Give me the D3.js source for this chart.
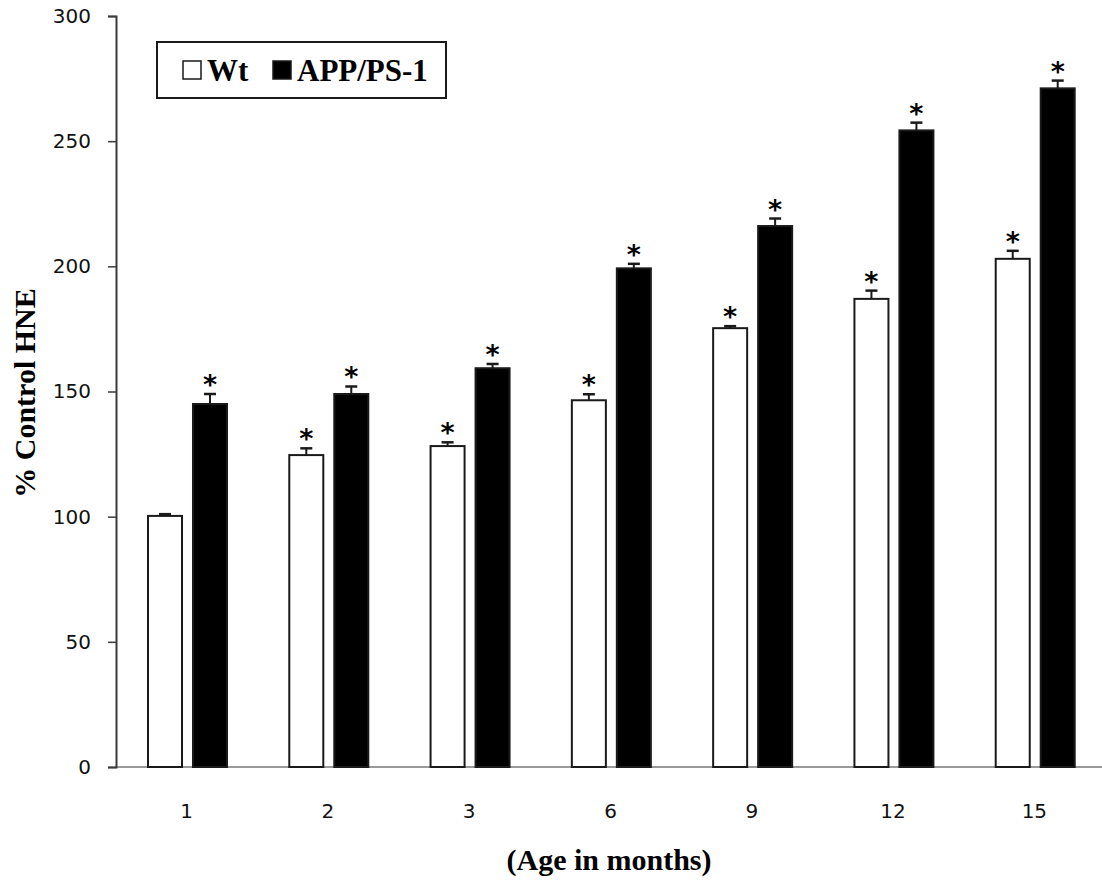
<!DOCTYPE html>
<html>
<head>
<meta charset="utf-8">
<script src="https://cdn.jsdelivr.net/npm/d3@7"></script>
<style>
  body { margin: 0; background: #fff; }
  svg { display: block; }
</style>
</head>
<body>
<svg id="canvas" width="1102" height="882"></svg>
<script>
// chart values
let ages = ['1', '2', '3', '6', '9', '12', '15']
let seriesNames = ['Wt', 'APP/PS-1']
let wtValues = [100.3, 124.6, 128.2, 146.5, 175.3, 187, 203]
let wtErrors = [0.7, 2.7, 1.5, 2.4, 0.8, 3.3, 3.2]
let appValues = [145, 149, 159.3, 199.2, 216.1, 254.3, 271.1]
let appErrors = [4, 3, 1.7, 1.8, 3, 3.1, 3.1]
let yTicks = [0, 50, 100, 150, 200, 250, 300]

let canvas = d3.select('#canvas')

let x = d3.scaleBand().domain(ages).range([116, 1105])
let xSub = d3.scaleBand().domain(seriesNames).range([32, 111]).paddingInner(0.244)
let y = d3.scaleLinear().domain([0, 300]).range([767, 16])

// build rows for drawing
let rows = []
ages.forEach((a, i) => {
    rows.push({ age: a, series: 'Wt', value: wtValues[i], err: wtErrors[i] })
    rows.push({ age: a, series: 'APP/PS-1', value: appValues[i], err: appErrors[i] })
})

// x axis (grey line, no ticks)
canvas.append('line')
    .attr('x1', 116).attr('x2', 1102)
    .attr('y1', y(0)).attr('y2', y(0))
    .style('stroke', '#9a9a9a')
    .style('stroke-width', 2)

// y axis
let yAxis = canvas.append('g')
    .attr('transform', 'translate(116,0)')
    .call(d3.axisLeft(y).tickValues(yTicks).tickSize(8).tickPadding(17))
yAxis.select('.domain').style('stroke', '#3a3a3a').style('stroke-width', 2)
yAxis.selectAll('.tick line').style('stroke', '#3a3a3a').style('stroke-width', 1.5)
yAxis.selectAll('.tick text')
    .style('font-family', 'DejaVu Sans')
    .style('font-size', '20px')
    .style('fill', '#111')

// bars
let bars = canvas.selectAll('rect.bar')
    .data(rows)
    .enter().append('rect')
    .attr('class', 'bar')
    .attr('x', d => x(d.age) + xSub(d.series))
    .attr('y', d => y(d.value))
    .attr('width', xSub.bandwidth())
    .attr('height', d => y(0) - y(d.value))
    .style('fill', d => d.series == 'Wt' ? '#fff' : '#000')
    .style('stroke', '#1a1a1a')
    .style('stroke-width', 2)

// error bars (upper only)
let errs = canvas.selectAll('g.err')
    .data(rows)
    .enter().append('g')
    .attr('class', 'err')
    .attr('transform', d => 'translate(' + (x(d.age) + xSub(d.series) + xSub.bandwidth() / 2) + ',0)')
errs.append('line')
    .attr('x1', 0).attr('x2', 0)
    .attr('y1', d => y(d.value))
    .attr('y2', d => y(d.value + d.err))
    .style('stroke', '#1a1a1a').style('stroke-width', 2)
errs.append('line')
    .attr('x1', -6).attr('x2', 6)
    .attr('y1', d => y(d.value + d.err))
    .attr('y2', d => y(d.value + d.err))
    .style('stroke', '#1a1a1a').style('stroke-width', 2.5)

// significance stars (all but the 1-month Wt)
errs.filter(d => !(d.age == '1' && d.series == 'Wt'))
    .append('text')
    .attr('x', 0)
    .attr('y', d => y(d.value + d.err) + 0)
    .attr('text-anchor', 'middle')
    .style('font-family', 'DejaVu Sans')
    .style('font-weight', 'bold')
    .style('font-size', '27px')
    .style('fill', '#000')
    .text('*')

// x tick labels
canvas.selectAll('text.xlab')
    .data(ages)
    .enter().append('text')
    .attr('class', 'xlab')
    .attr('x', d => x(d) + x.bandwidth() / 2)
    .attr('y', 818)
    .attr('text-anchor', 'middle')
    .style('font-family', 'DejaVu Sans')
    .style('font-size', '20px')
    .style('fill', '#111')
    .text(d => d)

// axis titles
canvas.append('text')
    .attr('x', 609).attr('y', 870)
    .attr('text-anchor', 'middle')
    .style('font-family', 'Liberation Serif')
    .style('font-weight', 'bold')
    .style('font-size', '30px')
    .text('(Age in months)')

canvas.append('text')
    .attr('transform', 'translate(35,393) rotate(-90)')
    .attr('text-anchor', 'middle')
    .style('font-family', 'Liberation Serif')
    .style('font-weight', 'bold')
    .style('font-size', '30px')
    .text('% Control HNE')

// legend
let legend = canvas.append('g')
legend.append('rect')
    .attr('x', 157).attr('y', 42)
    .attr('width', 289).attr('height', 56)
    .style('fill', '#fff')
    .style('stroke', '#1a1a1a')
    .style('stroke-width', 2)

let legendX = [183, 273]
let legendTextX = [207, 297]
seriesNames.forEach((s, i) => {
    legend.append('rect')
        .attr('x', legendX[i]).attr('y', 61)
        .attr('width', 18).attr('height', 18)
        .style('fill', i == 0 ? '#fff' : '#000')
        .style('stroke', '#1a1a1a')
        .style('stroke-width', 1.5)
    legend.append('text')
        .attr('x', legendTextX[i]).attr('y', 81)
        .style('font-family', 'Liberation Serif')
        .style('font-weight', 'bold')
        .style('font-size', '31px')
        .text(s)
})
</script>
</body>
</html>
